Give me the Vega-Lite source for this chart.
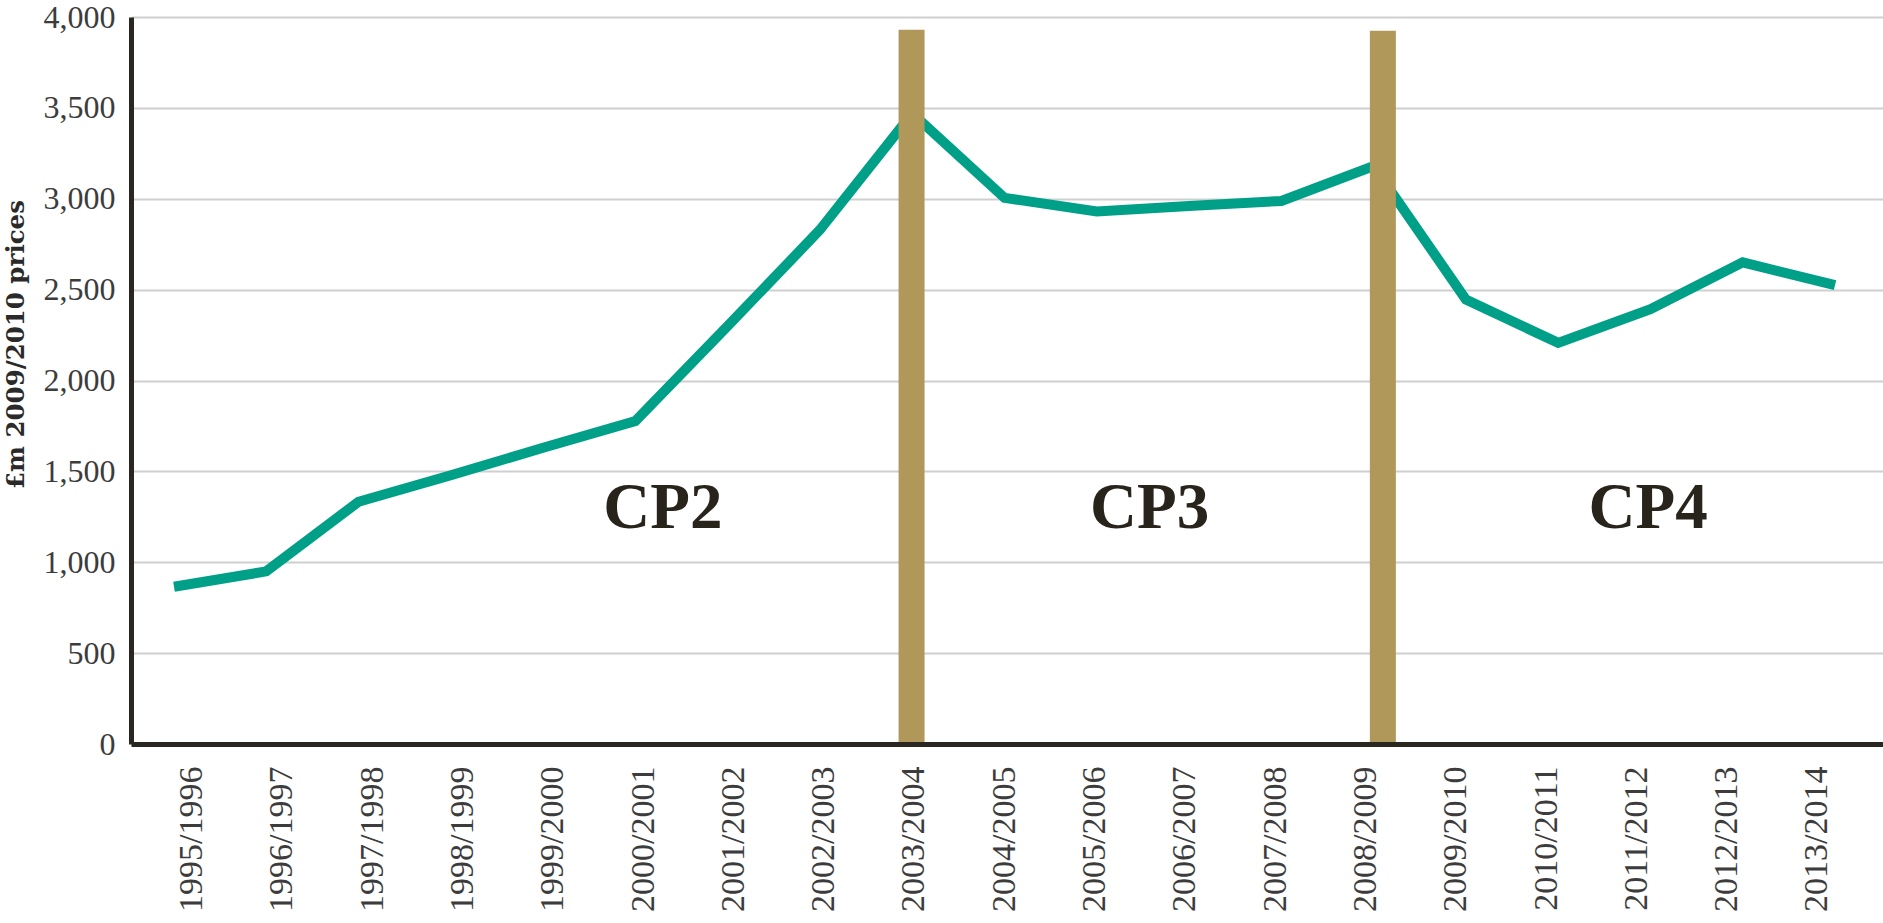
{
  "$schema": "https://vega.github.io/schema/vega-lite/v6.json",
  "width": 1752,
  "height": 727,
  "autosize": "none",
  "padding": {"left": 131, "top": 17, "right": 0, "bottom": 179},
  "background": "white",
  "config": {"view": {"stroke": null}},
  "datasets": {
    "spend": [
      {"year": 1995, "period": "1995/1996", "value": 865},
      {"year": 1996, "period": "1996/1997", "value": 950},
      {"year": 1997, "period": "1997/1998", "value": 1333},
      {"year": 1998, "period": "1998/1999", "value": 1479},
      {"year": 1999, "period": "1999/2000", "value": 1630},
      {"year": 2000, "period": "2000/2001", "value": 1777},
      {"year": 2001, "period": "2001/2002", "value": 2300},
      {"year": 2002, "period": "2002/2003", "value": 2829},
      {"year": 2003, "period": "2003/2004", "value": 3470},
      {"year": 2004, "period": "2004/2005", "value": 3005},
      {"year": 2005, "period": "2005/2006", "value": 2930},
      {"year": 2006, "period": "2006/2007", "value": 2960},
      {"year": 2007, "period": "2007/2008", "value": 2988},
      {"year": 2008, "period": "2008/2009", "value": 3180},
      {"year": 2009, "period": "2009/2010", "value": 2445},
      {"year": 2010, "period": "2010/2011", "value": 2207},
      {"year": 2011, "period": "2011/2012", "value": 2392},
      {"year": 2012, "period": "2012/2013", "value": 2650},
      {"year": 2013, "period": "2013/2014", "value": 2525}
    ],
    "boundaries": [
      {"year": 2003, "value": 3930},
      {"year": 2008, "value": 3925}
    ],
    "periods": [
      {"pos": 2000.22, "value": 1190, "name": "CP2"},
      {"pos": 2005.61, "value": 1190, "name": "CP3"},
      {"pos": 2011.13, "value": 1190, "name": "CP4"}
    ]
  },
  "resolve": {"scale": {"x": "independent"}},
  "layer": [
    {
      "data": {"name": "spend"},
      "mark": {"type": "line", "color": "#00A088", "strokeWidth": 10, "strokeCap": "butt"},
      "encoding": {
        "x": {"field": "year", "type": "quantitative", "scale": {"domain": [1994.534, 2013.52], "nice": false, "zero": false}, "axis": null},
        "y": {
          "field": "value", "type": "quantitative",
          "scale": {"domain": [0, 4000], "nice": false, "zero": true},
          "title": "£m 2009/2010 prices",
          "axis": {
            "values": [0, 500, 1000, 1500, 2000, 2500, 3000, 3500, 4000],
            "format": ",d",
            "grid": true, "gridColor": "#cfcfcf", "gridWidth": 2,
            "domain": true, "domainColor": "#2a2620", "domainWidth": 5,
            "ticks": false, "tickSize": 0,
            "labelFont": "Liberation Serif", "labelFontSize": 32, "labelColor": "#3c3c3c", "labelPadding": 16,
            "titleFont": "DejaVu Serif", "titleFontWeight": "bold", "titleFontSize": 24.5, "titleColor": "#2a2a2a",
            "titleX": -108, "titleY": 327, "titleAngle": 270, "titleAlign": "center", "titleBaseline": "alphabetic"
          }
        }
      }
    },
    {
      "data": {"name": "boundaries"},
      "mark": {"type": "bar", "color": "#B0985A", "size": 26, "orient": "vertical"},
      "encoding": {
        "x": {"field": "year", "type": "quantitative", "scale": {"domain": [1994.772, 2013.253], "nice": false, "zero": false}, "axis": null},
        "y": {"field": "value", "type": "quantitative"}
      }
    },
    {
      "data": {"name": "periods"},
      "mark": {"type": "text", "font": "Liberation Serif", "fontWeight": "bold", "fontSize": 65, "color": "#28241b", "baseline": "alphabetic", "align": "center"},
      "encoding": {
        "x": {
          "field": "pos", "type": "quantitative",
          "scale": {"domain": [1994.33, 2013.731], "nice": false, "zero": false},
          "axis": {
            "orient": "bottom",
            "values": [1995, 1996, 1997, 1998, 1999, 2000, 2001, 2002, 2003, 2004, 2005, 2006, 2007, 2008, 2009, 2010, 2011, 2012, 2013],
            "labelExpr": "format(datum.value, 'd') + '/' + format(datum.value + 1, 'd')",
            "labelAngle": 270,
            "labelFont": "Liberation Serif", "labelFontSize": 34, "labelColor": "#3c3c3c", "labelPadding": 22,
            "labelOverlap": false, "labelBound": false, "labelFlush": false,
            "ticks": false, "tickSize": 0, "grid": false,
            "domain": true, "domainColor": "#2a2620", "domainWidth": 5,
            "title": null, "zindex": 1
          }
        },
        "y": {"field": "value", "type": "quantitative"},
        "text": {"field": "name"}
      }
    }
  ]
}
